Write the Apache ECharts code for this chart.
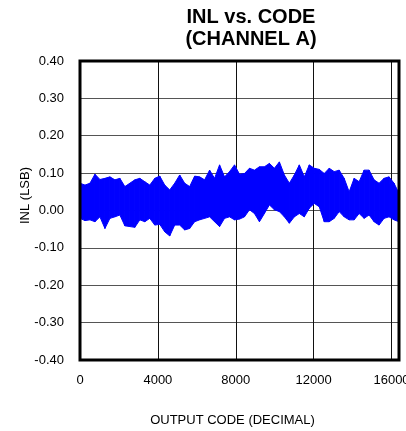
<!DOCTYPE html>
<html>
<head>
<meta charset="utf-8">
<script src="https://cdn.jsdelivr.net/npm/echarts@6/dist/echarts.min.js"></script>
<style>
    html, body { margin: 0; padding: 0; background: #fff; }
    #chart { width: 406px; height: 431px; }
</style>
</head>
<body>
<div id="chart"></div>
<script>
var codes = [0, 256, 512, 768, 1024, 1280, 1536, 1792, 2048, 2304, 2560, 2816, 3072, 3328, 3584, 3840,
    4096, 4352, 4608, 4864, 5120, 5376, 5632, 5888, 6144, 6400, 6656, 6912, 7168, 7424, 7680, 7936,
    8192, 8448, 8704, 8960, 9216, 9472, 9728, 9984, 10240, 10496, 10752, 11008, 11264, 11520, 11776, 12032,
    12288, 12544, 12800, 13056, 13312, 13568, 13824, 14080, 14336, 14592, 14848, 15104, 15360, 15616, 15872, 16128,
    16384];

// upper edge of the INL trace (LSB)
var inlMax = [0.073, 0.068, 0.073, 0.097, 0.083, 0.086, 0.090, 0.082, 0.086, 0.064, 0.073, 0.082, 0.086, 0.077, 0.068, 0.086,
    0.092, 0.068, 0.055, 0.073, 0.095, 0.073, 0.064, 0.092, 0.090, 0.082, 0.108, 0.086, 0.122, 0.090, 0.104, 0.122,
    0.097, 0.099, 0.113, 0.108, 0.117, 0.117, 0.126, 0.113, 0.130, 0.095, 0.073, 0.095, 0.122, 0.090, 0.122, 0.113,
    0.110, 0.099, 0.113, 0.104, 0.108, 0.086, 0.050, 0.086, 0.077, 0.108, 0.108, 0.082, 0.073, 0.086, 0.090, 0.073,
    0.046];

// lower edge of the INL trace (LSB)
var inlMin = [-0.021, -0.027, -0.025, -0.030, -0.017, -0.048, -0.021, -0.017, -0.012, -0.041, -0.043, -0.045, -0.025, -0.030, -0.021, -0.039,
    -0.037, -0.057, -0.068, -0.039, -0.039, -0.052, -0.048, -0.030, -0.025, -0.021, -0.017, -0.030, -0.043, -0.021, -0.017, -0.025,
    -0.023, -0.017, 0.002, -0.008, -0.030, -0.008, 0.015, 0.002, -0.003, -0.017, -0.034, -0.017, -0.008, -0.017, 0.006, 0.019,
    0.010, -0.030, -0.030, -0.021, -0.003, -0.017, -0.025, -0.025, -0.008, -0.021, -0.012, -0.030, -0.039, -0.021, -0.017, -0.025,
    -0.030];

var xTicks = [0, 4000, 8000, 12000, 16000];
var yTicks = [-0.40, -0.30, -0.20, -0.10, 0.00, 0.10, 0.20, 0.30, 0.40];

var font = 'Liberation Sans, Arial, sans-serif';
var blue = '#0000ff';

var bandData = codes.map(function (c, i) { return [c, inlMin[i], inlMax[i]]; });

// each item draws the band piece from its code to the next one
function renderBand(params, api) {
    var i = params.dataIndex;
    if (i >= codes.length - 1) return null;
    var pts = [
        api.coord([codes[i], inlMax[i]]),
        api.coord([codes[i + 1], inlMax[i + 1]]),
        api.coord([codes[i + 1], inlMin[i + 1]]),
        api.coord([codes[i], inlMin[i]])
    ];
    return {
        type: 'polygon',
        shape: { points: pts },
        style: { fill: blue, stroke: blue, lineWidth: 1 }
    };
}

var chart = echarts.init(document.getElementById('chart'), null, { renderer: 'canvas' });

var option = {
    animation: false,
    backgroundColor: '#fff',
    title: {
        text: 'INL vs. CODE\n(CHANNEL A)',
        left: 246,
        top: 1,
        textAlign: 'center',
        textStyle: { fontFamily: font, fontSize: 20, fontWeight: 'bold', color: '#000', lineHeight: 22 }
    },
    grid: {
        left: 80,
        right: 7,
        top: 61,
        bottom: 71,
        outerBoundsMode: 'none',
        containLabel: false,
        show: true,
        z: 5,
        backgroundColor: 'transparent',
        borderColor: '#000',
        borderWidth: 3
    },
    xAxis: {
        type: 'value',
        min: xTicks[0],
        max: 16384,
        interval: xTicks[1] - xTicks[0],
        name: 'OUTPUT CODE (DECIMAL)',
        nameLocation: 'middle',
        nameGap: 54,
        nameMoveOverlap: false,
        nameTextStyle: { fontFamily: font, fontSize: 13, color: '#000', padding: [0, 14, 0, 0] },
        axisLine: { show: false },
        axisTick: { show: false },
        axisLabel: {
            fontFamily: font, fontSize: 13, color: '#000', margin: 14,
            showMaxLabel: false,
            hideOverlap: false,
            formatter: function (v) { return xTicks.indexOf(v) >= 0 ? String(v) : ''; }
        },
        splitLine: { show: true, lineStyle: { color: '#111', width: 1 } }
    },
    yAxis: {
        type: 'value',
        min: yTicks[0],
        max: yTicks[yTicks.length - 1],
        interval: 0.1,
        name: 'INL (LSB)',
        nameLocation: 'middle',
        nameGap: 48,
        nameMoveOverlap: false,
        nameTextStyle: { fontFamily: font, fontSize: 13, color: '#000', padding: [0, 0, 0, 30] },
        axisLine: { show: false },
        axisTick: { show: false },
        axisLabel: {
            fontFamily: font, fontSize: 13, color: '#000', margin: 16,
            formatter: function (v) { return v.toFixed(2); }
        },
        splitLine: { show: true, lineStyle: { color: '#555', width: 1 } }
    },
    series: [
        {
            type: 'custom',
            data: bandData,
            encode: { x: 0, y: [1, 2] },
            renderItem: renderBand
        }
    ]
};

chart.setOption(option);
</script>
</body>
</html>
